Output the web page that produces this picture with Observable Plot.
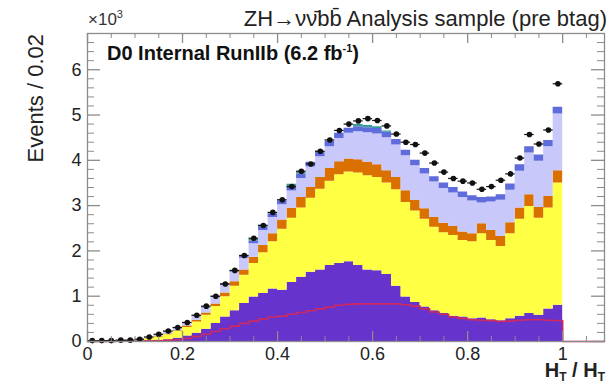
<!DOCTYPE html>
<html><head><meta charset="utf-8">
<script src="https://cdn.jsdelivr.net/npm/d3@7"></script>
<script src="https://cdn.jsdelivr.net/npm/@observablehq/plot@0.6"></script>
<style>html,body{margin:0;padding:0;background:#fff}svg{display:block}</style>
</head><body><div id="chart"></div>
<script>
// ---- data (units of 10^3 events per 0.02 bin) ----
const binWidth = 0.02;
const binLow = [0,0.02,0.04,0.06,0.08,0.10,0.12,0.14,0.16,0.18,0.20,0.22,0.24,0.26,0.28,0.30,0.32,0.34,0.36,0.38,
  0.40,0.42,0.44,0.46,0.48,0.50,0.52,0.54,0.56,0.58,0.60,0.62,0.64,0.66,0.68,0.70,0.72,0.74,0.76,0.78,
  0.80,0.82,0.84,0.86,0.88,0.90,0.92,0.94,0.96,0.98];
// upper edges of each stacked layer (cumulative)
const purpleTop = [.005,.005,.005,.006,.008,.010,.015,.025,.040,.070, .12,.18,.27,.40,.54,.68,.84,.98,1.06,1.16,
  1.13,1.30,1.42,1.53,1.58,1.68,1.72,1.76,1.68,1.58, 1.56,1.48,1.22,0.98,0.86,0.76,0.68,0.62,0.56,0.54,
  0.50,0.52,0.48,0.46,0.50,0.56,0.62,0.58,0.72,0.80];
const yellowTop = [.010,.010,.010,.012,.020,.030,.060,.100,.150,.220, .31,.43,.58,.77,.99,1.22,1.46,1.72,1.96,2.20,
  2.48,2.72,2.95,3.16,3.36,3.54,3.68,3.74,3.72,3.66, 3.62,3.50,3.35,3.07,2.88,2.70,2.52,2.40,2.34,2.23,
  2.20,2.38,2.23,2.10,2.38,2.70,2.98,2.72,2.95,3.50];
const orangeTop = [.012,.012,.012,.014,.022,.034,.066,.110,.165,.240, .34,.47,.63,.83,1.07,1.32,1.58,1.86,2.12,2.38,
  2.68,2.94,3.18,3.40,3.62,3.82,3.97,4.03,4.01,3.95, 3.90,3.77,3.62,3.33,3.12,2.93,2.74,2.61,2.54,2.42,
  2.38,2.60,2.45,2.32,2.62,2.95,3.24,2.96,3.20,3.77];
const lavenderTop = [.017,.017,.017,.020,.029,.044,.080,.130,.200,.280, .40,.55,.74,.97,1.24,1.53,1.84,2.16,2.45,2.74,
  3.02,3.32,3.60,3.85,4.08,4.30,4.48,4.60,4.63,4.61, 4.58,4.50,4.34,4.10,3.88,3.70,3.52,3.38,3.28,3.18,
  3.10,3.06,3.08,3.12,3.34,3.76,4.16,3.98,4.30,5.02];
const blueTop = [.020,.020,.020,.022,.032,.048,.085,.140,.210,.290, .41,.57,.76,1.00,1.28,1.57,1.89,2.22,2.52,2.82,
  3.11,3.42,3.70,3.96,4.20,4.42,4.60,4.71,4.74,4.72, 4.70,4.62,4.46,4.22,4.00,3.82,3.64,3.50,3.40,3.30,
  3.22,3.18,3.19,3.24,3.48,3.90,4.30,4.12,4.44,5.17];
// small extra component drawn above the blue band
const teal = [0,0,0,0,0,0,0,0,0,0, 0,0,0,0,0,0,0,.04,.05,0,
  0,.05,.04,0,0,0,0,0,.05,.05, .04,.03,0,0,0,0,0,0,0,0,
  0,0,0,0,0,0,0,0,0,0];
// line histogram inside the bottom layer
const redLine = [.003,.003,.003,.004,.005,.007,.01,.015,.025,.04, .07,.11,.16,.22,.28,.34,.40,.45,.50,.54,
  .56,.60,.64,.68,.72,.76,.80,.82,.83,.83, .83,.83,.83,.81,.78,.72,.65,.60,.54,.51,
  .48,.47,.46,.44,.45,.47,.48,.48,.47,.46];
// data points
const dataPts = [0.02,0.02,0.02,0.03,0.03,0.05,0.10,0.16,0.23,0.31, 0.42,0.58,0.78,1.00,1.27,1.57,1.90,2.28,2.56,2.85,
  3.13,3.42,3.76,3.92,4.20,4.45,4.66,4.80,4.87,4.92, 4.88,4.76,4.58,4.40,4.35,4.16,3.94,3.74,3.60,3.54,
  3.50,3.36,3.42,3.56,3.70,4.05,4.57,4.36,4.67,5.69];

const xTicks = [0, 0.2, 0.4, 0.6, 0.8, 1];
const yTicks = [0, 1, 2, 3, 4, 5, 6];
const layerNames = ["layer1", "layer2", "layer3", "layer4", "layer5", "layer6"];
const layerColors = ["#6633cc", "#ffff44", "#d97000", "#c8c8fa", "#5f6cdc", "#3a9a96"];

// ---- layout ----
const W = 613, H = 385, mL = 87, mR = 9, mT = 33, mB = 44;
const xMax = 1.088, yMax = 6.8;
const kx = (W - mL - mR) / xMax, ky = (H - mT - mB) / yMax;

// build stepped area rows
const zero = binLow.map(() => 0);
const tealTop = blueTop.map((b, i) => b + teal[i]);
const bounds = [zero, purpleTop, yellowTop, orangeTop, lavenderTop, blueTop, tealTop];
const areaRows = [];
layerNames.forEach((name, k) => {
  const lo = bounds[k], hi = bounds[k + 1];
  binLow.forEach((x, i) => areaRows.push({layer: name, x, y1: lo[i], y2: hi[i]}));
  const n = binLow.length - 1;
  areaRows.push({layer: name, x: binLow[n] + binWidth, y1: lo[n], y2: hi[n]});
});
const redRows = binLow.map((x, i) => ({x, y: redLine[i]}));
redRows.push({x: binLow[binLow.length - 1] + binWidth, y: 0});
redRows.push({x: xMax, y: 0});
const pts = binLow.map((x, i) => ({lo: x, hi: x + binWidth, c: x + binWidth / 2, v: dataPts[i]}));

const yMinor = d3.range(0, yMax + 1e-9, 0.2).filter(v => Math.abs(v - Math.round(v)) > 1e-6);
const xMinor = d3.range(0, xMax, 0.05).filter(v => Math.abs(v / 0.2 - Math.round(v / 0.2)) > 1e-6);
const tickCol = "#8c8c8c";
const lx = px => px / kx, ly = px => px / ky;

const plot = Plot.plot({
  width: W, height: H,
  marginLeft: mL, marginRight: mR, marginTop: mT, marginBottom: mB,
  x: {domain: [0, xMax]},
  y: {domain: [0, yMax]},
  color: {type: "ordinal", domain: layerNames, range: layerColors},
  style: {background: "white", fontFamily: "'Liberation Sans', Arial, sans-serif", color: "#222"},
  marks: [
    Plot.areaY(areaRows, {x: "x", y1: "y1", y2: "y2", z: "layer", fill: "layer", curve: "step-after"}),
    Plot.line(redRows, {x: "x", y: "y", curve: "step-after", stroke: "#cc2a60", strokeWidth: 1.6}),
    Plot.ruleY(pts, {y: "v", x1: "lo", x2: "hi", stroke: "#111", strokeWidth: 1.2}),
    Plot.dot(pts, {x: "c", y: "v", r: 2.8, fill: "#111", stroke: "none"}),
    Plot.frame({stroke: tickCol, strokeWidth: 1.3}),
    // inward ticks on all four sides
    Plot.ruleY(yTicks, {x1: 0, x2: lx(13), stroke: tickCol, strokeWidth: 1.3}),
    Plot.ruleY(yMinor, {x1: 0, x2: lx(7), stroke: tickCol}),
    Plot.ruleY(yTicks, {x1: xMax - lx(13), x2: xMax, stroke: tickCol, strokeWidth: 1.3}),
    Plot.ruleY(yMinor, {x1: xMax - lx(7), x2: xMax, stroke: tickCol}),
    Plot.ruleX(xTicks, {y1: 0, y2: ly(10), stroke: tickCol, strokeWidth: 1.3}),
    Plot.ruleX(xMinor, {y1: 0, y2: ly(5), stroke: tickCol}),
    Plot.ruleX(xTicks, {y1: yMax - ly(10), y2: yMax, stroke: tickCol, strokeWidth: 1.3}),
    Plot.ruleX(xMinor, {y1: yMax - ly(5), y2: yMax, stroke: tickCol}),
    Plot.axisX({ticks: xTicks, tickSize: 0, tickPadding: 6, fontSize: 18, tickFormat: d3.format("~g"), label: null}),
    Plot.axisY({ticks: yTicks, tickSize: 0, tickPadding: 6, fontSize: 18, tickFormat: d3.format("~g"), label: null})
  ]
});
document.getElementById("chart").appendChild(plot);

// ---- annotation texts ----
const svg = d3.select(plot);
const ff = "'Liberation Sans', Arial, sans-serif";
svg.append("text").attr("x", 607).attr("y", 26).attr("text-anchor", "end")
  .attr("font-family", ff).attr("font-size", 22).attr("fill", "#222")
  .text("ZH\u2192\u03bd\u03bd\u0304bb\u0304 Analysis sample (pre btag)");
const t10 = svg.append("text").attr("x", 88).attr("y", 25).attr("text-anchor", "start")
  .attr("font-family", ff).attr("font-size", 17).attr("fill", "#333");
t10.append("tspan").text("\u00d710");
t10.append("tspan").attr("dy", -7).attr("font-size", 11).text("3");
const d0 = svg.append("text").attr("x", 107).attr("y", 60).attr("text-anchor", "start")
  .attr("font-family", ff).attr("font-size", 20).attr("font-weight", "bold").attr("fill", "#111");
d0.append("tspan").text("D0 Internal RunIIb (6.2 fb");
d0.append("tspan").attr("dy", -8).attr("font-size", 11).text("-1");
d0.append("tspan").attr("dy", 8).text(")");
svg.append("text").attr("transform", "translate(43,34) rotate(-90)").attr("text-anchor", "end")
  .attr("font-family", ff).attr("font-size", 22).attr("fill", "#222").text("Events / 0.02");
const xl = svg.append("text").attr("x", 605).attr("y", 377).attr("text-anchor", "end")
  .attr("font-family", ff).attr("font-size", 20).attr("font-weight", "bold").attr("fill", "#222");
xl.append("tspan").text("H");
xl.append("tspan").attr("dy", 4).attr("font-size", 12).text("T");
xl.append("tspan").attr("dy", -4).text(" / H");
xl.append("tspan").attr("dy", 4).attr("font-size", 12).text("T");
</script>
</body></html>
